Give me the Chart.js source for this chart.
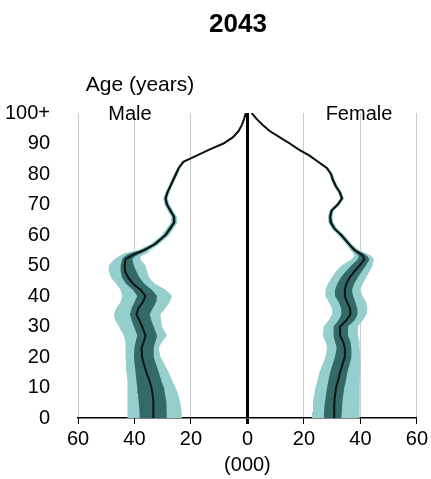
<!DOCTYPE html>
<html>
<head>
<meta charset="utf-8">
<script src="https://cdn.jsdelivr.net/npm/chart.js@4/dist/chart.umd.min.js"></script>
<style>
    body { margin: 0; background: #fff; }
    #pyramid { display: block; }
</style>
</head>
<body>
<canvas id="pyramid" width="431" height="479"></canvas>
<script>
// Projected population pyramid, 2043 (thousands)

const ages = [0, 2, 5, 8, 10, 12, 15, 18, 20,
    23, 25, 27, 30, 32, 34, 36, 38, 40,
    42, 44, 46, 48, 50, 52, 53, 54, 55,
    57,
    60, 62, 64, 66, 68, 70, 72, 74, 76, 78, 80, 82, 84, 86, 88, 90, 92, 94, 96, 98, 100];

const xTicks = [-60, -40, -20, 0, 20, 40, 60];
const yTicks = [0, 10, 20, 30, 40, 50, 60, 70, 80, 90, 100];

// Male (drawn to the left)
const maleMid = [33.2, 33.2, 33.4, 33.6, 34.0, 34.6, 35.8, 36.8, 37.3,
    37.5, 36.7, 36.1, 37.3, 38.3, 39.3, 38.6, 37.0, 36.1,
    37.8, 40.5, 42.2, 43.3, 43.5, 43.2, 41.5, 39.5, 36.7,
    32.8,
    29.0, 27.5, 26.0, 26.0, 27.3, 28.5, 29.0, 28.3, 27.3, 26.3, 25.3, 24.3, 22.7, 18.0, 13.5, 8.5, 5.2, 3.2, 2.0, 1.2, 0.6];
const maleLightOuter = [42.6, 42.6, 42.4, 42.4, 42.4, 42.6, 42.8, 43.0, 43.2,
    43.2, 43.2, 43.8, 45.5, 46.8, 47.3, 46.5, 44.9, 44.4,
    44.9, 46.5, 48.3, 49.1, 49.1, 47.3, 45.5, 43.5, 39.0,
    34.3,
    30.4, 28.8, 27.2, 27.0, 28.3, 29.4, 29.8, 29.0, 28.0, 27.0, 26.0, 24.9, 23.3, 18.6, 14.0, 9.0, 5.6, 3.5, 2.3, 1.4, 0.8];
const maleDarkOuter = [38.1, 38.2, 38.5, 38.8, 39.0, 39.3, 39.6, 40.0, 40.2,
    40.0, 39.6, 39.0, 40.2, 41.0, 41.6, 41.0, 40.0, 39.0,
    40.5, 43.0, 44.4, 44.9, 44.9, 44.4, 43.5, 41.5, 37.8,
    33.5,
    29.6, 28.1, 26.6, 26.5, 27.8, 29.0, 29.4, 28.7, 27.7, 26.7, 25.7, 24.6, 23.0, 18.3, 13.7, 8.7, 5.4, 3.3, 2.1, 1.3, 0.7];
const maleDarkInner = [28.5, 28.6, 28.7, 29.2, 29.6, 30.4, 31.4, 32.5, 33.2,
    33.2, 32.6, 32.0, 33.2, 34.0, 34.6, 33.5, 32.3, 32.0,
    33.8, 36.5, 38.2, 39.3, 40.2, 40.8, 39.8, 37.5, 35.6,
    32.1,
    28.4, 26.9, 25.4, 25.5, 26.8, 28.0, 28.6, 27.9, 26.9, 25.9, 24.9, 24.0, 22.4, 17.7, 13.3, 8.3, 5.0, 3.1, 1.9, 1.1, 0.5];
const maleLightInner = [23.2, 23.3, 23.8, 24.6, 25.5, 26.5, 27.9, 29.6, 30.8,
    31.4, 30.2, 28.5, 30.2, 30.6, 30.8, 29.0, 27.5, 26.7,
    28.8, 32.8, 34.8, 35.5, 36.1, 37.9, 37.8, 35.5, 34.5,
    31.3,
    27.6, 26.2, 24.8, 25.0, 26.3, 27.6, 28.2, 27.6, 26.6, 25.6, 24.6, 23.7, 22.1, 17.4, 13.0, 8.0, 4.8, 2.9, 1.7, 1.0, 0.4];

// Female (drawn to the right)
const femaleMid = [30.7, 30.7, 30.8, 31.1, 31.4, 32.0, 32.8, 33.8, 34.5,
    34.5, 33.9, 32.8, 32.8, 35.0, 36.5, 36.3, 35.3, 34.5,
    34.5, 35.0, 36.2, 37.8, 39.7, 41.4, 41.0, 39.8, 38.0,
    36.0,
    33.2, 30.9, 29.6, 29.3, 29.8, 32.0, 33.5, 32.7, 31.3, 30.3, 29.6, 28.1, 25.0, 22.0, 18.2, 15.0, 11.5, 8.0, 5.5, 3.3, 1.5];
const femaleLightLow = [22.8, 22.9, 23.2, 23.7, 24.1, 24.7, 25.5, 26.8, 27.6,
    28.2, 27.6, 26.7, 27.0, 28.7, 30.0, 30.0, 28.8, 27.6,
    27.6, 28.5, 29.8, 31.3, 33.3, 36.8, 37.8, 37.5, 36.5,
    35.0,
    32.1, 29.9, 28.7, 28.5, 29.0, 31.2, 32.8, 32.0, 30.6, 29.6, 29.0, 27.5, 24.4, 21.4, 17.7, 14.5, 11.0, 7.6, 5.1, 3.0, 1.2];
const femaleDarkLow = [27.0, 27.1, 27.4, 27.9, 28.2, 28.6, 29.3, 30.3, 31.0,
    31.6, 31.0, 30.5, 30.5, 32.2, 33.3, 33.2, 32.3, 31.0,
    31.0, 31.8, 33.0, 34.8, 36.8, 39.0, 39.5, 38.5, 37.2,
    35.5,
    32.7, 30.4, 29.1, 28.9, 29.4, 31.6, 33.1, 32.3, 30.9, 29.9, 29.3, 27.8, 24.7, 21.7, 17.9, 14.7, 11.2, 7.8, 5.3, 3.1, 1.3];
const femaleDarkHigh = [33.3, 33.4, 33.6, 34.0, 34.3, 34.8, 35.4, 36.3, 36.8,
    36.8, 36.5, 35.6, 35.6, 37.9, 39.0, 38.9, 38.2, 37.4,
    37.0, 37.8, 39.0, 40.5, 42.0, 43.2, 42.5, 41.0, 38.8,
    36.5,
    33.7, 31.4, 30.1, 29.7, 30.2, 32.4, 33.9, 33.1, 31.7, 30.7, 29.9, 28.4, 25.3, 22.3, 18.5, 15.3, 11.8, 8.2, 5.7, 3.5, 1.7];
const femaleLightHigh = [39.7, 39.7, 39.7, 39.7, 39.7, 39.8, 40.0, 40.0, 40.0,
    39.7, 39.7, 39.1, 39.1, 40.8, 42.2, 42.5, 42.0, 40.8,
    39.9, 40.8, 42.0, 43.2, 44.3, 44.8, 44.0, 42.0, 39.5,
    37.0,
    34.3, 31.9, 30.5, 30.1, 30.6, 32.8, 34.2, 33.4, 32.0, 31.0, 30.2, 28.7, 25.6, 22.6, 18.7, 15.5, 12.0, 8.4, 5.9, 3.6, 1.8];

const LIGHT = '#95cfcd';
const DARK = '#336a68';
const LINE = '#0c1414';
const FONT = '"Liberation Sans", Arial, sans-serif';

// ============================================
// Helpers
// ============================================

// turn a value list into {x, y} points; male side is mirrored
function toPoints(values, sign) {
    return values.map(function(v, i) {
        return { x: sign * v, y: ages[i] };
    });
}

function bandEdge(values, sign, color, fillNext) {
    return {
        data: toPoints(values, sign),
        borderWidth: 0,
        borderColor: color,
        backgroundColor: color,
        pointRadius: 0,
        fill: fillNext ? '+1' : false
    };
}

function medianLine(values, sign) {
    return {
        data: toPoints(values, sign),
        borderColor: LINE,
        borderWidth: 2,
        pointRadius: 0,
        fill: false
    };
}

// Text labels that sit inside / around the plot
const labelPlugin = {
    id: 'labels',
    afterDraw: function(chart) {
        const ctx = chart.ctx;
        ctx.save();
        ctx.fillStyle = '#000';
        ctx.textAlign = 'center';
        ctx.textBaseline = 'middle';
        ctx.font = 'bold 26px ' + FONT;
        ctx.fillText('2043', 238, 25);
        ctx.font = '21px ' + FONT;
        ctx.fillText('Age (years)', 140, 85);
        ctx.font = '20px ' + FONT;
        ctx.fillText('Male', 130, 114);
        ctx.fillText('Female', 359, 114);
        ctx.restore();
    }
};

// ============================================
// Chart
// ============================================

// order matters: dataset 0 is painted last (on top)
const datasets = [
    medianLine(maleMid, -1),
    medianLine(femaleMid, 1),
    bandEdge(maleDarkOuter, -1, DARK, true),
    bandEdge(maleDarkInner, -1, DARK, false),
    bandEdge(femaleDarkLow, 1, DARK, true),
    bandEdge(femaleDarkHigh, 1, DARK, false),
    bandEdge(maleLightOuter, -1, LIGHT, true),
    bandEdge(maleLightInner, -1, LIGHT, false),
    bandEdge(femaleLightLow, 1, LIGHT, true),
    bandEdge(femaleLightHigh, 1, LIGHT, false)
];

new Chart(document.getElementById('pyramid'), {
    type: 'line',
    data: { datasets: datasets },
    options: {
        indexAxis: 'y',
        responsive: false,
        animation: false,
        events: [],
        layout: { padding: { top: 113, right: 13, bottom: 0, left: 0 } },
        plugins: {
            legend: { display: false },
            tooltip: { enabled: false },
            filler: { propagate: false }
        },
        scales: {
            x: {
                type: 'linear',
                min: -60,
                max: 60,
                afterFit: function(scale) { scale.height = 61; },
                afterBuildTicks: function(scale) {
                    scale.ticks = xTicks.map(function(v) { return { value: v }; });
                },
                border: { display: true, color: '#000', width: 1.5 },
                grid: {
                    color: function(c) { return c.tick && c.tick.value === 0 ? '#000' : '#cccccc'; },
                    lineWidth: function(c) { return c.tick && c.tick.value === 0 ? 3 : 1; },
                    tickColor: '#000',
                    tickLength: 6
                },
                ticks: {
                    color: '#000',
                    font: { family: FONT, size: 20 },
                    padding: 3,
                    maxRotation: 0,
                    callback: function(v) { return Math.abs(v); }
                },
                title: {
                    display: true,
                    text: '(000)',
                    color: '#000',
                    font: { family: FONT, size: 20 },
                    padding: { top: 0, bottom: 2 }
                }
            },
            y: {
                type: 'linear',
                min: 0,
                max: 100,
                afterFit: function(scale) { scale.width = 78; },
                afterBuildTicks: function(scale) {
                    scale.ticks = yTicks.map(function(v) { return { value: v }; });
                },
                border: { display: false },
                grid: { display: false },
                ticks: {
                    color: '#000',
                    font: { family: FONT, size: 20 },
                    padding: 20,
                    callback: function(v) { return v === 100 ? '100+' : v; }
                }
            }
        }
    },
    plugins: [labelPlugin]
});
</script>
</body>
</html>
